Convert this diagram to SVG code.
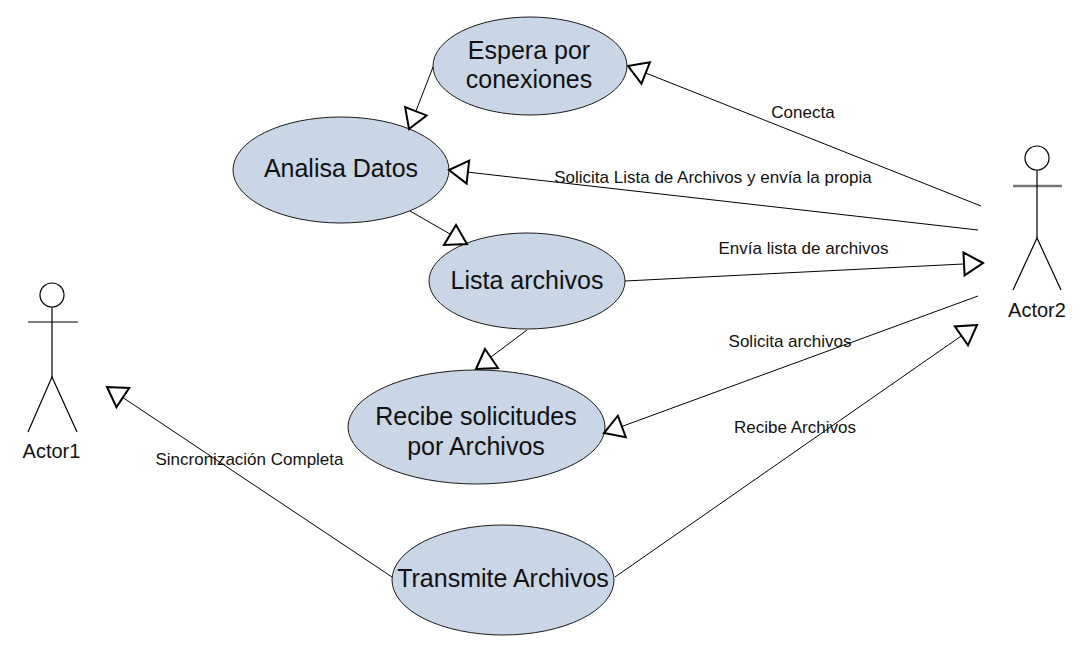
<svg xmlns="http://www.w3.org/2000/svg" width="1080" height="663" viewBox="0 0 1080 663">
<style>
.uc{fill:#C9D6E5;stroke:#1a1a1a;stroke-width:1}
.uct{font-family:"Liberation Sans",Arial,sans-serif;font-size:25px;fill:#111;text-anchor:middle}
.lbl{font-family:"Liberation Sans",Arial,sans-serif;font-size:17px;fill:#111;text-anchor:middle}
.act{font-family:"Liberation Sans",Arial,sans-serif;font-size:20px;fill:#111;text-anchor:middle}
.ln{fill:none;stroke:#000;stroke-width:1}
.fig{fill:none;stroke:#000;stroke-width:1.2}
.arm2{stroke:#777;stroke-width:2.5}
.ah{fill:#fff;stroke:#000;stroke-width:2;stroke-linejoin:miter}
</style>
<defs>
<marker id="tri" markerUnits="userSpaceOnUse" viewBox="-22 -14 26 28" refX="0" refY="0" markerWidth="26" markerHeight="28" orient="auto" overflow="visible">
<path d="M0,0 L-19,-11.5 L-19,11.5 Z" fill="#fff" stroke="#000" stroke-width="2"/>
</marker>
</defs>
<rect width="1080" height="663" fill="#fff"/>

<g id="espera">
<ellipse class="uc" cx="530" cy="66" rx="97" ry="49"/>
<text class="uct" x="529" y="59">Espera por</text>
<text class="uct" x="529" y="88">conexiones</text>
</g>
<g id="analisa">
<ellipse class="uc" cx="341" cy="170" rx="108" ry="53"/>
<text class="uct" x="341" y="177">Analisa Datos</text>
</g>
<g id="lista">
<ellipse class="uc" cx="527" cy="281" rx="98" ry="48"/>
<text class="uct" x="527" y="289">Lista archivos</text>
</g>
<g id="recibe">
<ellipse class="uc" cx="476.5" cy="427" rx="128.5" ry="57"/>
<text class="uct" x="476" y="425">Recibe solicitudes</text>
<text class="uct" x="476" y="455">por Archivos</text>
</g>
<g id="transmite">
<ellipse class="uc" cx="503" cy="580" rx="111" ry="55"/>
<text class="uct" x="503" y="587">Transmite Archivos</text>
</g>

<g id="actor1">
<circle class="fig" cx="52" cy="295" r="12"/>
<line class="fig" x1="28" y1="322" x2="78" y2="322"/>
<line class="fig" x1="52" y1="307" x2="52" y2="377"/>
<polyline class="fig" points="28,432 52,377 77,432"/>
<text class="act" x="51.5" y="458">Actor1</text>
</g>
<g id="actor2">
<circle class="fig" cx="1037" cy="158" r="12"/>
<line class="arm2" x1="1013" y1="186" x2="1062" y2="186"/>
<line class="fig" x1="1037" y1="170" x2="1037" y2="238"/>
<polyline class="fig" points="1013,290 1037,238 1061,290"/>
<text class="act" x="1037" y="317">Actor2</text>
</g>

<g id="connectors">
<path class="ln" d="M981,206 L628,66" marker-end="url(#tri)"/>
<path class="ln" d="M978,230 L449,170" marker-end="url(#tri)"/>
<path class="ln" d="M625,281 L983,263" marker-end="url(#tri)"/>
<path class="ln" d="M978,296 L604,433" marker-end="url(#tri)"/>
<path class="ln" d="M615,577 L977,325" marker-end="url(#tri)"/>
<path class="ln" d="M392,577 L107,387" marker-end="url(#tri)"/>
<path class="ln" d="M433,67 L409,129" marker-end="url(#tri)"/>
<path class="ln" d="M410,211 L450,234"/>
<polygon class="ah" points="456,225 444,245 467,244"/>
<path class="ln" d="M527,330 L491,357"/>
<polygon class="ah" points="485,349 476,369 498,368"/>
<text class="lbl" x="803" y="118">Conecta</text>
<text class="lbl" x="713" y="183">Solicita Lista de Archivos y envía la propia</text>
<text class="lbl" x="803.5" y="254">Envía lista de archivos</text>
<text class="lbl" x="790" y="347">Solicita archivos</text>
<text class="lbl" x="795" y="433">Recibe Archivos</text>
<text class="lbl" x="249.5" y="465">Sincronización Completa</text>
</g>
</svg>
